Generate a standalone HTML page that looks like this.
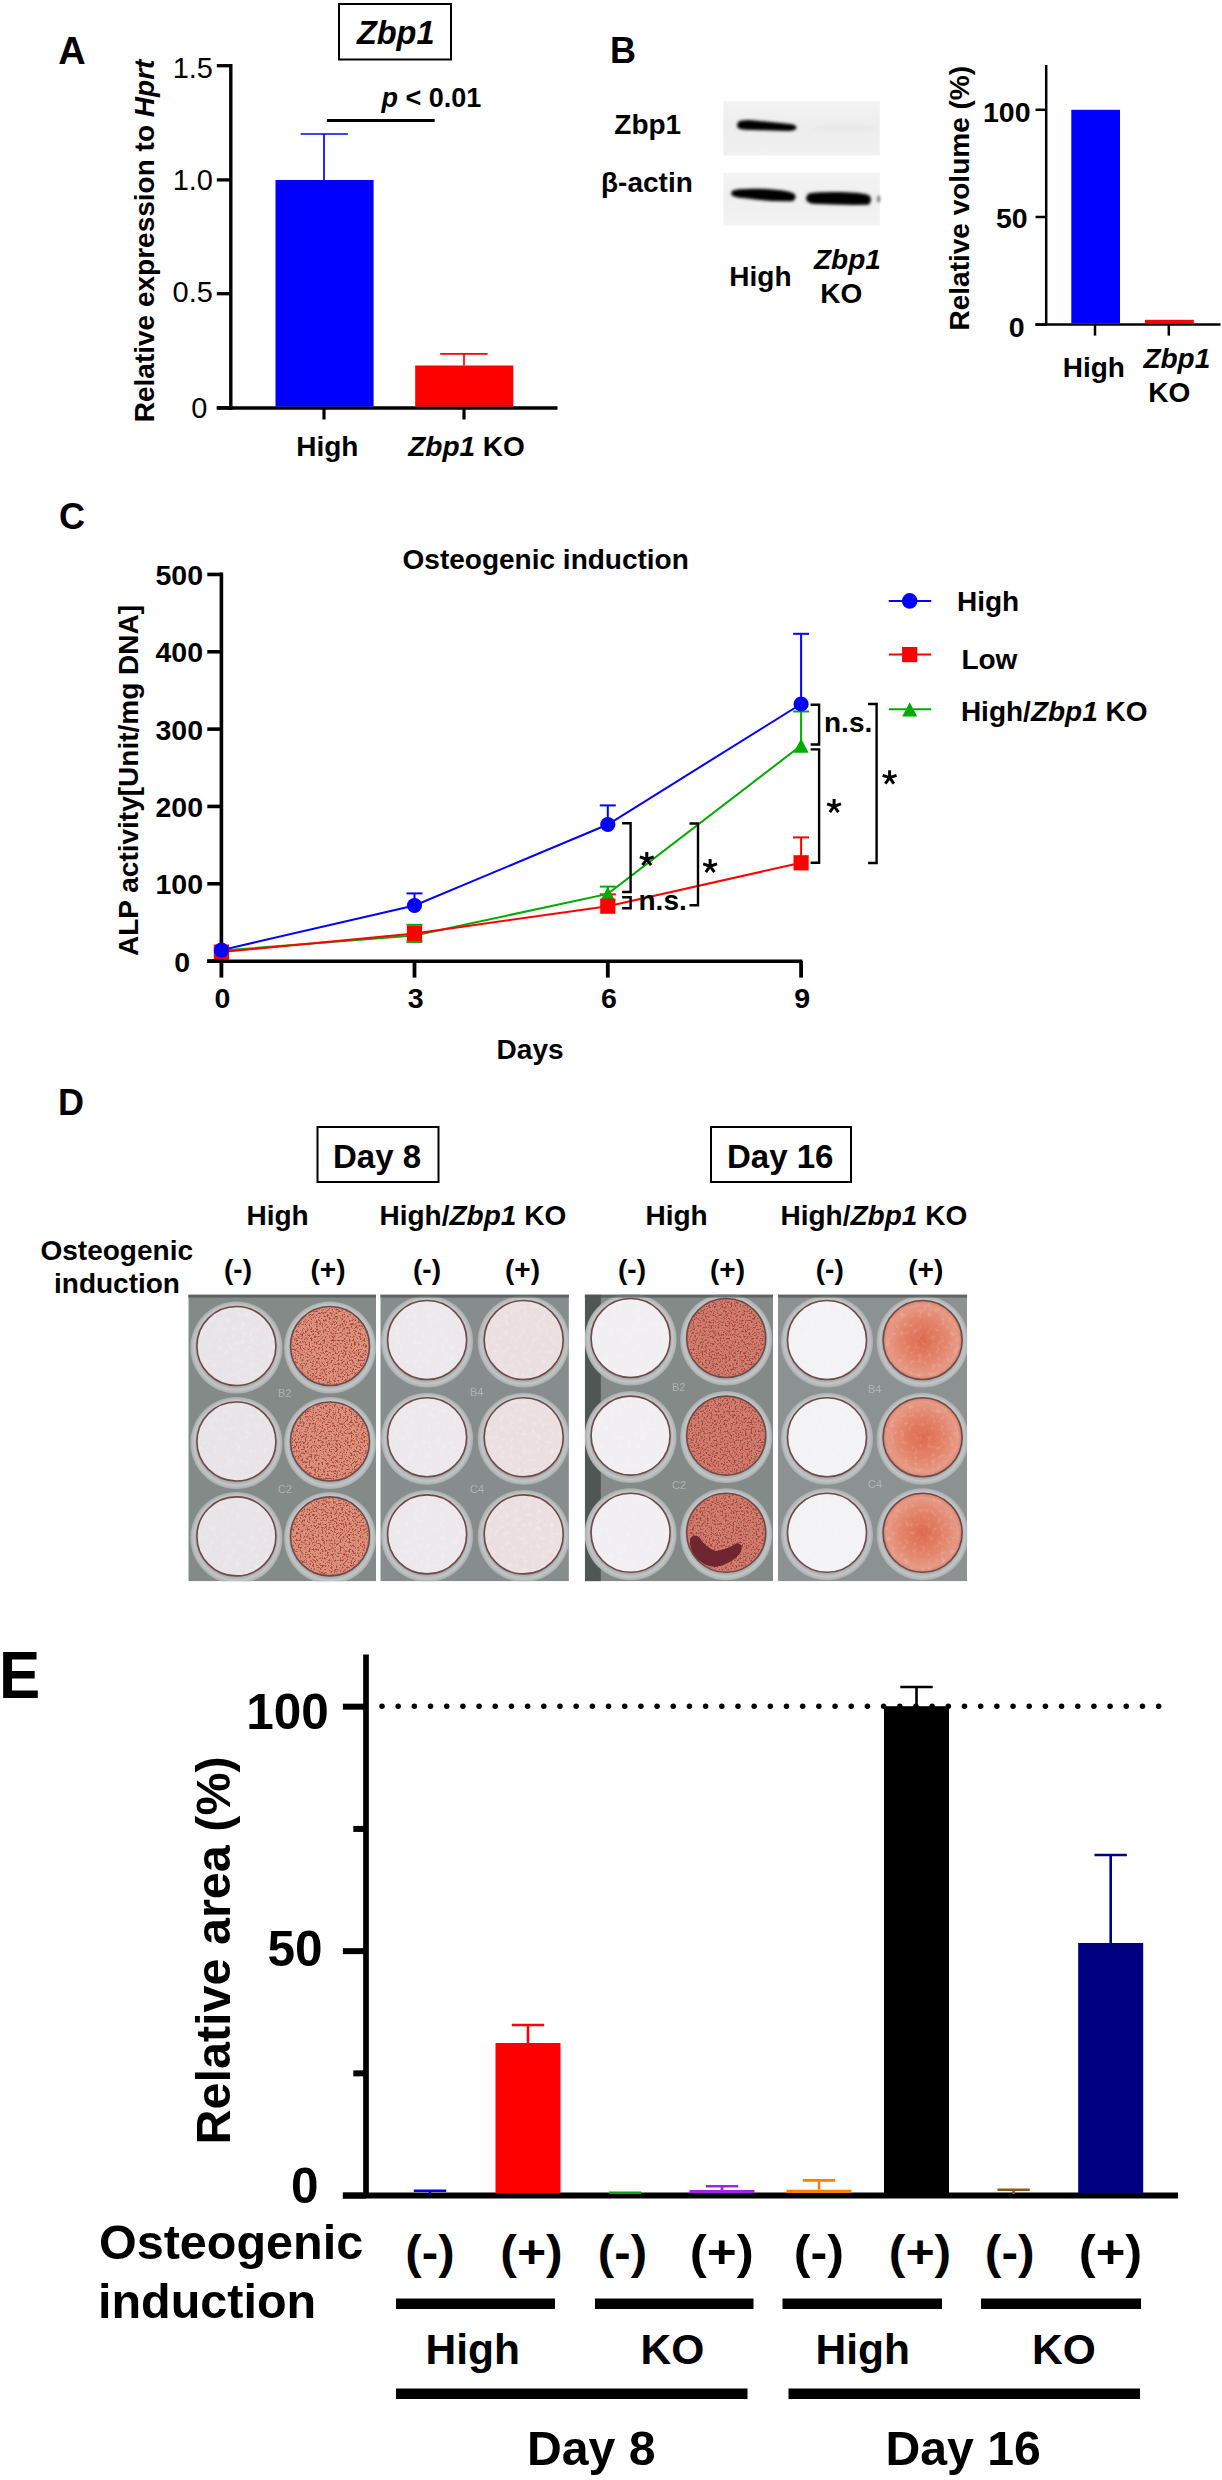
<!DOCTYPE html>
<html><head><meta charset="utf-8"><style>
html,body{margin:0;padding:0;background:#fff;}
body{width:1222px;height:2480px;overflow:hidden;}
svg{display:block;}
text{font-family:"Liberation Sans",sans-serif;}
</style></head><body>
<svg width="1222" height="2480" viewBox="0 0 1222 2480" font-family="Liberation Sans, sans-serif">
<rect width="1222" height="2480" fill="#fff"/>
<defs>
<filter id="blur" x="-20%" y="-100%" width="140%" height="300%"><feGaussianBlur stdDeviation="1.7"/></filter>
<filter id="speck" x="0" y="0" width="100%" height="100%" color-interpolation-filters="sRGB"><feTurbulence type="fractalNoise" baseFrequency="0.55" numOctaves="2" seed="7"/><feColorMatrix type="matrix" values="0 0 0 0 0.66  0 0 0 0 0.24  0 0 0 0 0.21  0 0 -5 0 2.55"/><feGaussianBlur stdDeviation="0.55"/><feComposite in2="SourceGraphic" operator="in"/></filter>
<filter id="speck2" x="0" y="0" width="100%" height="100%" color-interpolation-filters="sRGB"><feTurbulence type="fractalNoise" baseFrequency="0.22" numOctaves="2" seed="3"/><feColorMatrix type="matrix" values="0 0 0 0 1  0 0 0 0 1  0 0 0 0 1  0 0 -1.6 0 0.75"/><feComposite in2="SourceGraphic" operator="in"/></filter>
<radialGradient id="ringg" cx="0.5" cy="0.5" r="0.5"><stop offset="0.84" stop-color="#a3a7a7"/><stop offset="0.92" stop-color="#c3c6c6"/><stop offset="1" stop-color="#a9adad"/></radialGradient>
<radialGradient id="rd16" cx="0.5" cy="0.5" r="0.5"><stop offset="0" stop-color="#de6a4e"/><stop offset="0.55" stop-color="#e3846a"/><stop offset="0.9" stop-color="#e69a86"/><stop offset="1" stop-color="#d5806c"/></radialGradient>
</defs>
<text x="58.20" y="63.80" font-size="38" fill="#000"><tspan font-weight="bold">A</tspan></text>
<rect x="339" y="4" width="112" height="55.5" fill="none" stroke="#000" stroke-width="2"/>
<text x="356.90" y="44.20" font-size="32.5" fill="#000"><tspan font-weight="bold" font-style="italic">Zbp1</tspan></text>
<text x="381.50" y="106.80" font-size="27" fill="#000"><tspan font-weight="bold" font-style="italic">p</tspan><tspan font-weight="bold"> < 0.01</tspan></text>
<line x1="326.9" y1="120.5" x2="434.7" y2="120.5" stroke="#000" stroke-width="3.2" />
<line x1="230.8" y1="64" x2="230.8" y2="410" stroke="#000" stroke-width="3.4" />
<line x1="216.8" y1="65.7" x2="230.8" y2="65.7" stroke="#000" stroke-width="3.3" />
<line x1="216.8" y1="179.9" x2="230.8" y2="179.9" stroke="#000" stroke-width="3.3" />
<line x1="216.8" y1="293.7" x2="230.8" y2="293.7" stroke="#000" stroke-width="3.3" />
<line x1="216.8" y1="407.8" x2="230.8" y2="407.8" stroke="#000" stroke-width="3.3" />
<line x1="216.8" y1="408" x2="557.5" y2="408" stroke="#000" stroke-width="3.3" />
<line x1="324" y1="408" x2="324" y2="419.5" stroke="#000" stroke-width="3.2" />
<line x1="464" y1="408" x2="464" y2="419.5" stroke="#000" stroke-width="3.2" />
<rect x="275.50" y="180.00" width="98.10" height="226.50" fill="#0000ff" />
<line x1="324" y1="134" x2="324" y2="180" stroke="#0000ff" stroke-width="1.7" />
<line x1="300.7" y1="134" x2="347.8" y2="134" stroke="#0000ff" stroke-width="1.7" />
<rect x="415.20" y="365.50" width="98.10" height="41.00" fill="#ff0000" />
<line x1="464" y1="353.8" x2="464" y2="365.5" stroke="#ff0000" stroke-width="1.7" />
<line x1="440.2" y1="353.8" x2="487.6" y2="353.8" stroke="#ff0000" stroke-width="1.7" />
<text x="172.70" y="77.50" font-size="29" fill="#000"><tspan font-weight="normal">1.5</tspan></text>
<text x="172.70" y="190.40" font-size="29" fill="#000"><tspan font-weight="normal">1.0</tspan></text>
<text x="172.60" y="301.70" font-size="29" fill="#000"><tspan font-weight="normal">0.5</tspan></text>
<text x="191.20" y="417.50" font-size="29" fill="#000"><tspan font-weight="normal">0</tspan></text>
<text transform="translate(154.00,422.20) rotate(-90) scale(1.0000,1)" font-size="28"><tspan font-weight="bold">Relative expression to </tspan><tspan font-weight="bold" font-style="italic">Hprt</tspan></text>
<text x="296.20" y="455.90" font-size="28" fill="#000"><tspan font-weight="bold">High</tspan></text>
<text x="408.20" y="455.90" font-size="28" fill="#000"><tspan font-weight="bold" font-style="italic">Zbp1</tspan><tspan font-weight="bold"> KO</tspan></text>
<text x="609.90" y="63.10" font-size="36" fill="#000"><tspan font-weight="bold">B</tspan></text>
<linearGradient id="bl1" x1="0" y1="0" x2="0" y2="1"><stop offset="0" stop-color="#f3f3f3"/><stop offset="0.5" stop-color="#ededed"/><stop offset="1" stop-color="#f1f1f1"/></linearGradient>
<linearGradient id="bl2" x1="0" y1="0" x2="0" y2="1"><stop offset="0" stop-color="#f4f4f4"/><stop offset="0.5" stop-color="#efefef"/><stop offset="1" stop-color="#f3f3f3"/></linearGradient>
<rect x="723.50" y="101.20" width="156.30" height="54.40" fill="url(#bl1)" />
<rect x="723.50" y="172.70" width="156.30" height="52.80" fill="url(#bl2)" />
<ellipse cx="845" cy="128" rx="32" ry="4" fill="#e9e9e9" filter="url(#blur)"/>
<g filter="url(#blur)">
<path d="M738,122 Q742,119.5 752,120.2 L790,124 Q797,125 796.5,128 Q795,131 788,131 L745,129.8 Q737,129.2 737,125.5 Z" fill="#000"/>
<path d="M732,191 Q736,188.3 760,188.8 Q788,189.8 794.5,194 Q797.5,198.5 792,201.3 Q770,201.8 745,198.3 Q732,197.3 731,194 Z" fill="#000"/>
<path d="M808,193.8 Q812,191.8 840,192 Q865,192.3 870,196 Q872.5,201 868.5,204.8 Q840,205.3 812,203.8 Q806,202.3 806,198 Z" fill="#000"/>
<rect x="877.5" y="196" width="2.3" height="6" fill="#555"/>
</g>
<text x="614.30" y="134.40" font-size="28" fill="#000"><tspan font-weight="bold">Zbp1</tspan></text>
<text x="601.00" y="191.50" font-size="28" fill="#000"><tspan font-weight="bold">β-actin</tspan></text>
<text x="729.30" y="285.80" font-size="28" fill="#000"><tspan font-weight="bold">High</tspan></text>
<text x="814.00" y="268.80" font-size="28" fill="#000"><tspan font-weight="bold" font-style="italic">Zbp1</tspan></text>
<text x="820.20" y="302.80" font-size="28" fill="#000"><tspan font-weight="bold">KO</tspan></text>
<line x1="1046.2" y1="65" x2="1046.2" y2="325.5" stroke="#000" stroke-width="2.5" />
<line x1="1035.5" y1="109.8" x2="1046.2" y2="109.8" stroke="#000" stroke-width="2.5" />
<line x1="1035.5" y1="217" x2="1046.2" y2="217" stroke="#000" stroke-width="2.5" />
<line x1="1035.5" y1="324.6" x2="1046.2" y2="324.6" stroke="#000" stroke-width="2.5" />
<line x1="1035.5" y1="324.6" x2="1220.5" y2="324.6" stroke="#000" stroke-width="2.5" />
<line x1="1095" y1="324" x2="1095" y2="335.6" stroke="#000" stroke-width="2.5" />
<line x1="1168.8" y1="324" x2="1168.8" y2="335.6" stroke="#000" stroke-width="2.5" />
<rect x="1071.30" y="109.80" width="48.70" height="213.60" fill="#0000ff" />
<rect x="1145.00" y="319.80" width="48.80" height="3.60" fill="#ff0000" />
<text x="983.00" y="121.60" font-size="28.5" fill="#000"><tspan font-weight="bold">100</tspan></text>
<text x="996.00" y="227.70" font-size="28.5" fill="#000"><tspan font-weight="bold">50</tspan></text>
<text x="1008.80" y="336.50" font-size="28.5" fill="#000"><tspan font-weight="bold">0</tspan></text>
<text transform="translate(969.00,330.50) rotate(-90) scale(1.0000,1)" font-size="28"><tspan font-weight="bold">Relative volume (%)</tspan></text>
<text x="1062.70" y="376.80" font-size="28" fill="#000"><tspan font-weight="bold">High</tspan></text>
<text x="1143.40" y="368.00" font-size="28" fill="#000"><tspan font-weight="bold" font-style="italic">Zbp1</tspan></text>
<text x="1148.30" y="401.50" font-size="28" fill="#000"><tspan font-weight="bold">KO</tspan></text>
<text x="59.00" y="529.40" font-size="36" fill="#000"><tspan font-weight="bold">C</tspan></text>
<text x="402.60" y="569.00" font-size="28" fill="#000"><tspan font-weight="bold">Osteogenic induction</tspan></text>
<line x1="221.4" y1="572.5" x2="221.4" y2="962.5" stroke="#000" stroke-width="3.6" />
<line x1="207.3" y1="961.1" x2="221.4" y2="961.1" stroke="#000" stroke-width="3.6" />
<text x="174.20" y="972.00" font-size="28.5" fill="#000"><tspan font-weight="bold">0</tspan></text>
<line x1="207.3" y1="883.77" x2="221.4" y2="883.77" stroke="#000" stroke-width="3.6" />
<text x="155.50" y="894.37" font-size="28.5" fill="#000"><tspan font-weight="bold">100</tspan></text>
<line x1="207.3" y1="806.44" x2="221.4" y2="806.44" stroke="#000" stroke-width="3.6" />
<text x="155.50" y="817.04" font-size="28.5" fill="#000"><tspan font-weight="bold">200</tspan></text>
<line x1="207.3" y1="729.11" x2="221.4" y2="729.11" stroke="#000" stroke-width="3.6" />
<text x="155.50" y="739.71" font-size="28.5" fill="#000"><tspan font-weight="bold">300</tspan></text>
<line x1="207.3" y1="651.78" x2="221.4" y2="651.78" stroke="#000" stroke-width="3.6" />
<text x="155.50" y="662.38" font-size="28.5" fill="#000"><tspan font-weight="bold">400</tspan></text>
<line x1="207.3" y1="574.45" x2="221.4" y2="574.45" stroke="#000" stroke-width="3.6" />
<text x="155.50" y="585.05" font-size="28.5" fill="#000"><tspan font-weight="bold">500</tspan></text>
<line x1="221.4" y1="961" x2="221.4" y2="977.6" stroke="#000" stroke-width="3.8" />
<text x="214.60" y="1008.30" font-size="28.5" fill="#000"><tspan font-weight="bold">0</tspan></text>
<line x1="414.5" y1="961" x2="414.5" y2="977.6" stroke="#000" stroke-width="3.8" />
<text x="407.70" y="1008.30" font-size="28.5" fill="#000"><tspan font-weight="bold">3</tspan></text>
<line x1="607.8" y1="961" x2="607.8" y2="977.6" stroke="#000" stroke-width="3.8" />
<text x="601.00" y="1008.30" font-size="28.5" fill="#000"><tspan font-weight="bold">6</tspan></text>
<line x1="801.1" y1="961" x2="801.1" y2="977.6" stroke="#000" stroke-width="3.8" />
<text x="794.30" y="1008.30" font-size="28.5" fill="#000"><tspan font-weight="bold">9</tspan></text>
<text x="496.60" y="1059.00" font-size="28" fill="#000"><tspan font-weight="bold">Days</tspan></text>
<text transform="translate(138.00,956.00) rotate(-90) scale(1.0000,1)" font-size="28"><tspan font-weight="bold">ALP activity[Unit/mg DNA]</tspan></text>
<line x1="414.5" y1="905.5" x2="414.5" y2="893.4" stroke="#0000ff" stroke-width="2" />
<line x1="406.5" y1="893.4" x2="422.5" y2="893.4" stroke="#0000ff" stroke-width="2" />
<line x1="607.8" y1="824.5" x2="607.8" y2="805.4" stroke="#0000ff" stroke-width="2" />
<line x1="599.8" y1="805.4" x2="615.8" y2="805.4" stroke="#0000ff" stroke-width="2" />
<line x1="801.1" y1="704" x2="801.1" y2="633.8" stroke="#0000ff" stroke-width="2" />
<line x1="793.1" y1="633.8" x2="809.1" y2="633.8" stroke="#0000ff" stroke-width="2" />
<line x1="607.8" y1="906.2" x2="607.8" y2="894.4" stroke="#ff0000" stroke-width="2" />
<line x1="599.8" y1="894.4" x2="615.8" y2="894.4" stroke="#ff0000" stroke-width="2" />
<line x1="801.1" y1="862.5" x2="801.1" y2="837.4" stroke="#ff0000" stroke-width="2" />
<line x1="793.1" y1="837.4" x2="809.1" y2="837.4" stroke="#ff0000" stroke-width="2" />
<line x1="414.5" y1="933" x2="414.5" y2="924.8" stroke="#00aa00" stroke-width="2" />
<line x1="406.5" y1="924.8" x2="422.5" y2="924.8" stroke="#00aa00" stroke-width="2" />
<line x1="414.5" y1="933" x2="414.5" y2="941.8" stroke="#00aa00" stroke-width="2" />
<line x1="406.5" y1="941.8" x2="422.5" y2="941.8" stroke="#00aa00" stroke-width="2" />
<line x1="607.8" y1="893.9" x2="607.8" y2="886.6" stroke="#00aa00" stroke-width="2" />
<line x1="599.8" y1="886.6" x2="615.8" y2="886.6" stroke="#00aa00" stroke-width="2" />
<line x1="801.1" y1="745.5" x2="801.1" y2="711.5" stroke="#00aa00" stroke-width="2" />
<line x1="793.1" y1="711.5" x2="809.1" y2="711.5" stroke="#00aa00" stroke-width="2" />
<polyline points="221.4,950.6 414.5,935.5 607.8,893.9 801.1,745.5" fill="none" stroke="#00aa00" stroke-width="2"/>
<polyline points="221.4,952.1 414.5,933.4 607.8,906.2 801.1,862.8" fill="none" stroke="#ff0000" stroke-width="2"/>
<polyline points="221.4,950.1 414.5,905.5 607.8,824.5 801.1,704" fill="none" stroke="#0000ff" stroke-width="2"/>
<polygon points="213.9,957.725 228.9,957.725 221.4,943.475" fill="#00aa00"/>
<polygon points="407.0,942.625 422.0,942.625 414.5,928.375" fill="#00aa00"/>
<polygon points="600.3,901.025 615.3,901.025 607.8,886.775" fill="#00aa00"/>
<polygon points="793.6,752.625 808.6,752.625 801.1,738.375" fill="#00aa00"/>
<rect x="213.80" y="944.50" width="15.20" height="15.20" fill="#ff0000" />
<rect x="406.90" y="925.80" width="15.20" height="15.20" fill="#ff0000" />
<rect x="600.20" y="898.60" width="15.20" height="15.20" fill="#ff0000" />
<rect x="793.50" y="855.20" width="15.20" height="15.20" fill="#ff0000" />
<circle cx="221.4" cy="950.1" r="7.6" fill="#0000ff"/>
<circle cx="414.5" cy="905.5" r="7.6" fill="#0000ff"/>
<circle cx="607.8" cy="824.5" r="7.6" fill="#0000ff"/>
<circle cx="801.1" cy="704" r="7.6" fill="#0000ff"/>
<polyline points="622.1,823.2 630.6,823.2 630.6,892 622.1,892" fill="none" stroke="#000" stroke-width="2.4"/>
<polyline points="622.1,897.3 630.6,897.3 630.6,908.3 622.1,908.3" fill="none" stroke="#000" stroke-width="2.4"/>
<polyline points="689.5,823.5 698,823.5 698,905.2 689.5,905.2" fill="none" stroke="#000" stroke-width="2.4"/>
<polyline points="810.6,704.7 819.1,704.7 819.1,744.5 810.6,744.5" fill="none" stroke="#000" stroke-width="2.4"/>
<polyline points="810.6,749.4 819.1,749.4 819.1,862.8 810.6,862.8" fill="none" stroke="#000" stroke-width="2.4"/>
<polyline points="868.1,704 876.6,704 876.6,863 868.1,863" fill="none" stroke="#000" stroke-width="2.4"/>
<path d="M646.80,859.20L646.80,851.90M646.80,859.20L653.74,856.94M646.80,859.20L639.86,856.94M646.80,859.20L651.09,865.11M646.80,859.20L642.51,865.11" stroke="#000" stroke-width="3.0" fill="none"/>
<path d="M710.10,866.20L710.10,858.90M710.10,866.20L717.04,863.94M710.10,866.20L703.16,863.94M710.10,866.20L714.39,872.11M710.10,866.20L705.81,872.11" stroke="#000" stroke-width="3.0" fill="none"/>
<path d="M834.10,806.20L834.10,798.90M834.10,806.20L841.04,803.94M834.10,806.20L827.16,803.94M834.10,806.20L838.39,812.11M834.10,806.20L829.81,812.11" stroke="#000" stroke-width="3.0" fill="none"/>
<path d="M889.60,777.60L889.60,770.30M889.60,777.60L896.54,775.34M889.60,777.60L882.66,775.34M889.60,777.60L893.89,783.51M889.60,777.60L885.31,783.51" stroke="#000" stroke-width="3.0" fill="none"/>
<line x1="207.2" y1="961.2" x2="802.4" y2="961.2" stroke="#000" stroke-width="3.4" />
<text x="638.50" y="910.10" font-size="28" fill="#000"><tspan font-weight="bold">n.s.</tspan></text>
<text x="824.00" y="731.70" font-size="28" fill="#000"><tspan font-weight="bold">n.s.</tspan></text>
<line x1="888.8" y1="600.9" x2="931.2" y2="600.9" stroke="#0000ff" stroke-width="2" />
<line x1="888.8" y1="654.6" x2="931.2" y2="654.6" stroke="#ff0000" stroke-width="2" />
<line x1="888.8" y1="709.3" x2="931.2" y2="709.3" stroke="#00aa00" stroke-width="2" />
<circle cx="909.7" cy="600.9" r="7.8" fill="#0000ff"/>
<rect x="902.10" y="647.00" width="15.20" height="15.20" fill="#ff0000" />
<polygon points="902.2,716.425 917.2,716.425 909.7,702.175" fill="#00aa00"/>
<text x="957.00" y="611.40" font-size="28" fill="#000"><tspan font-weight="bold">High</tspan></text>
<text x="961.40" y="668.70" font-size="28" fill="#000"><tspan font-weight="bold">Low</tspan></text>
<text x="960.90" y="720.60" font-size="28" fill="#000"><tspan font-weight="bold">High/</tspan><tspan font-weight="bold" font-style="italic">Zbp1</tspan><tspan font-weight="bold"> KO</tspan></text>
<text x="58.00" y="1115.00" font-size="36" fill="#000"><tspan font-weight="bold">D</tspan></text>
<rect x="317.5" y="1127" width="121" height="55" fill="none" stroke="#000" stroke-width="2"/>
<rect x="711" y="1127" width="140" height="55" fill="none" stroke="#000" stroke-width="2"/>
<text x="333.00" y="1167.50" font-size="33" fill="#000"><tspan font-weight="bold">Day 8</tspan></text>
<text x="727.00" y="1167.50" font-size="33" fill="#000"><tspan font-weight="bold">Day 16</tspan></text>
<text x="246.50" y="1225.00" font-size="28" fill="#000"><tspan font-weight="bold">High</tspan></text>
<text x="379.50" y="1225.00" font-size="28" fill="#000"><tspan font-weight="bold">High/</tspan><tspan font-weight="bold" font-style="italic">Zbp1</tspan><tspan font-weight="bold"> KO</tspan></text>
<text x="645.50" y="1225.00" font-size="28" fill="#000"><tspan font-weight="bold">High</tspan></text>
<text x="780.50" y="1225.00" font-size="28" fill="#000"><tspan font-weight="bold">High/</tspan><tspan font-weight="bold" font-style="italic">Zbp1</tspan><tspan font-weight="bold"> KO</tspan></text>
<text x="40.50" y="1260.00" font-size="28" fill="#000"><tspan font-weight="bold">Osteogenic</tspan></text>
<text x="54.00" y="1292.50" font-size="28" fill="#000"><tspan font-weight="bold">induction</tspan></text>
<text x="224.00" y="1279.00" font-size="28" fill="#000"><tspan font-weight="bold">(-)</tspan></text>
<text x="310.50" y="1279.00" font-size="28" fill="#000"><tspan font-weight="bold">(+)</tspan></text>
<text x="413.00" y="1279.00" font-size="28" fill="#000"><tspan font-weight="bold">(-)</tspan></text>
<text x="505.00" y="1279.00" font-size="28" fill="#000"><tspan font-weight="bold">(+)</tspan></text>
<text x="618.00" y="1279.00" font-size="28" fill="#000"><tspan font-weight="bold">(-)</tspan></text>
<text x="710.00" y="1279.00" font-size="28" fill="#000"><tspan font-weight="bold">(+)</tspan></text>
<text x="815.75" y="1279.00" font-size="28" fill="#000"><tspan font-weight="bold">(-)</tspan></text>
<text x="908.25" y="1279.00" font-size="28" fill="#000"><tspan font-weight="bold">(+)</tspan></text>
<clipPath id="pc1"><rect x="188.3" y="1294.6" width="187.7" height="286.70000000000005"/></clipPath><g clip-path="url(#pc1)">
<rect x="188.3" y="1294.6" width="187.7" height="286.70000000000005" fill="#838a88"/>

<circle cx="236.4" cy="1347.5" r="46" fill="url(#ringg)"/>
<circle cx="236.4" cy="1346" r="39.5" fill="#e8e4e7" stroke="#6e4a48" stroke-width="1.6"/>
<circle cx="236.4" cy="1346" r="38.5" fill="#fff" filter="url(#speck2)" opacity="0.5"/>
<circle cx="236.4" cy="1443.0" r="46" fill="url(#ringg)"/>
<circle cx="236.4" cy="1441.5" r="39.5" fill="#e8e4e7" stroke="#6e4a48" stroke-width="1.6"/>
<circle cx="236.4" cy="1441.5" r="38.5" fill="#fff" filter="url(#speck2)" opacity="0.5"/>
<circle cx="236.4" cy="1537.9" r="46" fill="url(#ringg)"/>
<circle cx="236.4" cy="1536.4" r="39.5" fill="#e8e4e7" stroke="#6e4a48" stroke-width="1.6"/>
<circle cx="236.4" cy="1536.4" r="38.5" fill="#fff" filter="url(#speck2)" opacity="0.5"/>
<circle cx="330" cy="1347.5" r="46" fill="url(#ringg)"/>
<circle cx="330" cy="1346" r="39.5" fill="#dc937e" stroke="#6e4a48" stroke-width="1.6"/>
<circle cx="330" cy="1346" r="38.5" fill="#fff" filter="url(#speck)" opacity="0.9"/>
<circle cx="330" cy="1443.0" r="46" fill="url(#ringg)"/>
<circle cx="330" cy="1441.5" r="39.5" fill="#dc937e" stroke="#6e4a48" stroke-width="1.6"/>
<circle cx="330" cy="1441.5" r="38.5" fill="#fff" filter="url(#speck)" opacity="0.9"/>
<circle cx="330" cy="1537.9" r="46" fill="url(#ringg)"/>
<circle cx="330" cy="1536.4" r="39.5" fill="#dc937e" stroke="#6e4a48" stroke-width="1.6"/>
<circle cx="330" cy="1536.4" r="38.5" fill="#fff" filter="url(#speck)" opacity="0.9"/>

</g>
<clipPath id="pc2"><rect x="380.3" y="1294.6" width="188.59999999999997" height="286.70000000000005"/></clipPath><g clip-path="url(#pc2)">
<rect x="380.3" y="1294.6" width="188.59999999999997" height="286.70000000000005" fill="#878d8c"/>

<circle cx="427.1" cy="1341.5" r="46" fill="url(#ringg)"/>
<circle cx="427.1" cy="1340" r="39.5" fill="#ece8eb" stroke="#6e4a48" stroke-width="1.6"/>
<circle cx="427.1" cy="1340" r="38.5" fill="#fff" filter="url(#speck2)" opacity="0.5"/>
<circle cx="427.1" cy="1438.7" r="46" fill="url(#ringg)"/>
<circle cx="427.1" cy="1437.2" r="39.5" fill="#ece8eb" stroke="#6e4a48" stroke-width="1.6"/>
<circle cx="427.1" cy="1437.2" r="38.5" fill="#fff" filter="url(#speck2)" opacity="0.5"/>
<circle cx="427.1" cy="1535.9" r="46" fill="url(#ringg)"/>
<circle cx="427.1" cy="1534.4" r="39.5" fill="#ece8eb" stroke="#6e4a48" stroke-width="1.6"/>
<circle cx="427.1" cy="1534.4" r="38.5" fill="#fff" filter="url(#speck2)" opacity="0.5"/>
<circle cx="523.7" cy="1341.5" r="46" fill="url(#ringg)"/>
<circle cx="523.7" cy="1340" r="39.5" fill="#ecdfe2" stroke="#6e4a48" stroke-width="1.6"/>
<circle cx="523.7" cy="1340" r="38.5" fill="#fff" filter="url(#speck2)" opacity="0.5"/>
<circle cx="523.7" cy="1438.7" r="46" fill="url(#ringg)"/>
<circle cx="523.7" cy="1437.2" r="39.5" fill="#ecdfe2" stroke="#6e4a48" stroke-width="1.6"/>
<circle cx="523.7" cy="1437.2" r="38.5" fill="#fff" filter="url(#speck2)" opacity="0.5"/>
<circle cx="523.7" cy="1535.9" r="46" fill="url(#ringg)"/>
<circle cx="523.7" cy="1534.4" r="39.5" fill="#ecdfe2" stroke="#6e4a48" stroke-width="1.6"/>
<circle cx="523.7" cy="1534.4" r="38.5" fill="#fff" filter="url(#speck2)" opacity="0.5"/>

</g>
<clipPath id="pc3"><rect x="584.8" y="1294.6" width="188.20000000000005" height="286.70000000000005"/></clipPath><g clip-path="url(#pc3)">
<rect x="584.8" y="1294.6" width="188.20000000000005" height="286.70000000000005" fill="#838a88"/>
<rect x="584.8" y="1294.6" width="16" height="287" fill="#2f3432" opacity="0.6"/>
<circle cx="630.6" cy="1339.5" r="46" fill="url(#ringg)"/>
<circle cx="630.6" cy="1338" r="39.5" fill="#f1eff1" stroke="#6e4a48" stroke-width="1.6"/>
<circle cx="630.6" cy="1338" r="38.5" fill="#fff" filter="url(#speck2)" opacity="0.5"/>
<circle cx="630.6" cy="1437.1" r="46" fill="url(#ringg)"/>
<circle cx="630.6" cy="1435.6" r="39.5" fill="#f1eff1" stroke="#6e4a48" stroke-width="1.6"/>
<circle cx="630.6" cy="1435.6" r="38.5" fill="#fff" filter="url(#speck2)" opacity="0.5"/>
<circle cx="630.6" cy="1534.3" r="46" fill="url(#ringg)"/>
<circle cx="630.6" cy="1532.8" r="39.5" fill="#f1eff1" stroke="#6e4a48" stroke-width="1.6"/>
<circle cx="630.6" cy="1532.8" r="38.5" fill="#fff" filter="url(#speck2)" opacity="0.5"/>
<circle cx="726.2" cy="1339.5" r="46" fill="url(#ringg)"/>
<circle cx="726.2" cy="1338" r="39.5" fill="#cf7f70" stroke="#6e4a48" stroke-width="1.6"/>
<circle cx="726.2" cy="1338" r="38.5" fill="#fff" filter="url(#speck)" opacity="0.9"/>
<circle cx="726.2" cy="1437.1" r="46" fill="url(#ringg)"/>
<circle cx="726.2" cy="1435.6" r="39.5" fill="#cf7f70" stroke="#6e4a48" stroke-width="1.6"/>
<circle cx="726.2" cy="1435.6" r="38.5" fill="#fff" filter="url(#speck)" opacity="0.9"/>
<circle cx="726.2" cy="1534.3" r="46" fill="url(#ringg)"/>
<circle cx="726.2" cy="1532.8" r="39.5" fill="#cf7f70" stroke="#6e4a48" stroke-width="1.6"/>
<circle cx="726.2" cy="1532.8" r="38.5" fill="#fff" filter="url(#speck)" opacity="0.9"/>
<path d="M690,1539 Q693,1533 699,1537 Q706,1548 716,1551 Q728,1549 737,1543 Q744,1544 741,1552 Q734,1563 716,1567 Q702,1566 695,1556 Q689,1548 690,1539 Z" fill="#6f2630"/>
</g>
<clipPath id="pc4"><rect x="778" y="1294.6" width="189.10000000000002" height="286.70000000000005"/></clipPath><g clip-path="url(#pc4)">
<rect x="778" y="1294.6" width="189.10000000000002" height="286.70000000000005" fill="#8c9191"/>

<circle cx="827" cy="1341.5" r="46" fill="url(#ringg)"/>
<circle cx="827" cy="1340" r="39.5" fill="#f3f2f4" stroke="#6e4a48" stroke-width="1.6"/>
<circle cx="827" cy="1340" r="38.5" fill="#fff" filter="url(#speck2)" opacity="0.5"/>
<circle cx="827" cy="1438.7" r="46" fill="url(#ringg)"/>
<circle cx="827" cy="1437.2" r="39.5" fill="#f3f2f4" stroke="#6e4a48" stroke-width="1.6"/>
<circle cx="827" cy="1437.2" r="38.5" fill="#fff" filter="url(#speck2)" opacity="0.5"/>
<circle cx="827" cy="1534.3" r="46" fill="url(#ringg)"/>
<circle cx="827" cy="1532.8" r="39.5" fill="#f3f2f4" stroke="#6e4a48" stroke-width="1.6"/>
<circle cx="827" cy="1532.8" r="38.5" fill="#fff" filter="url(#speck2)" opacity="0.5"/>
<circle cx="922.6" cy="1341.5" r="46" fill="url(#ringg)"/>
<circle cx="922.6" cy="1340" r="39.5" fill="url(#rd16)" stroke="#6e4a48" stroke-width="1.6"/>
<circle cx="922.6" cy="1340" r="38.5" fill="#fff" filter="url(#speck2)" opacity="0.35"/>
<circle cx="922.6" cy="1438.7" r="46" fill="url(#ringg)"/>
<circle cx="922.6" cy="1437.2" r="39.5" fill="url(#rd16)" stroke="#6e4a48" stroke-width="1.6"/>
<circle cx="922.6" cy="1437.2" r="38.5" fill="#fff" filter="url(#speck2)" opacity="0.35"/>
<circle cx="922.6" cy="1534.3" r="46" fill="url(#ringg)"/>
<circle cx="922.6" cy="1532.8" r="39.5" fill="url(#rd16)" stroke="#6e4a48" stroke-width="1.6"/>
<circle cx="922.6" cy="1532.8" r="38.5" fill="#fff" filter="url(#speck2)" opacity="0.35"/>

</g><rect x="188.3" y="1294.6" width="187.7" height="3" fill="#4d5352" opacity="0.7"/><rect x="380.3" y="1294.6" width="188.59999999999997" height="3" fill="#4d5352" opacity="0.7"/><rect x="584.8" y="1294.6" width="188.20000000000005" height="3" fill="#4d5352" opacity="0.7"/><rect x="778" y="1294.6" width="189.10000000000002" height="3" fill="#4d5352" opacity="0.7"/><g font-size="11" fill="#b9bdbd" opacity="0.8"><text x="278" y="1397">B2</text><text x="278" y="1493">C2</text><text x="470" y="1396">B4</text><text x="470" y="1493">C4</text><text x="672" y="1391">B2</text><text x="672" y="1489">C2</text><text x="868" y="1393">B4</text><text x="868" y="1488">C4</text></g>
<text transform="translate(-1.02,1697.90) scale(0.9289,1.0000)" font-size="66.5" fill="#000"><tspan font-weight="bold">E</tspan></text>
<line x1="366" y1="1654.5" x2="366" y2="2198" stroke="#000" stroke-width="5.7" />
<line x1="342.9" y1="2195.6" x2="366" y2="2195.6" stroke="#000" stroke-width="6" />
<line x1="342.9" y1="1951.1399999999999" x2="366" y2="1951.1399999999999" stroke="#000" stroke-width="6" />
<line x1="342.9" y1="1706.6799999999998" x2="366" y2="1706.6799999999998" stroke="#000" stroke-width="6" />
<line x1="353.3" y1="2073.37" x2="366" y2="2073.37" stroke="#000" stroke-width="6" />
<line x1="353.3" y1="1828.9099999999999" x2="366" y2="1828.9099999999999" stroke="#000" stroke-width="6" />
<line x1="342.9" y1="2195.6" x2="1178" y2="2195.6" stroke="#000" stroke-width="6" />
<text x="246.30" y="1728.70" font-size="49.5" fill="#000"><tspan font-weight="bold">100</tspan></text>
<text x="267.60" y="1966.00" font-size="49.5" fill="#000"><tspan font-weight="bold">50</tspan></text>
<text x="291.00" y="2203.20" font-size="49.5" fill="#000"><tspan font-weight="bold">0</tspan></text>
<text transform="translate(229.50,2144.50) rotate(-90) scale(1.0000,1)" font-size="48.5"><tspan font-weight="bold">Relative area (%)</tspan></text>
<g fill="#000"><circle cx="382.00" cy="1706.2" r="2.75"/><circle cx="398.18" cy="1706.2" r="2.75"/><circle cx="414.36" cy="1706.2" r="2.75"/><circle cx="430.54" cy="1706.2" r="2.75"/><circle cx="446.72" cy="1706.2" r="2.75"/><circle cx="462.90" cy="1706.2" r="2.75"/><circle cx="479.08" cy="1706.2" r="2.75"/><circle cx="495.26" cy="1706.2" r="2.75"/><circle cx="511.44" cy="1706.2" r="2.75"/><circle cx="527.62" cy="1706.2" r="2.75"/><circle cx="543.80" cy="1706.2" r="2.75"/><circle cx="559.98" cy="1706.2" r="2.75"/><circle cx="576.16" cy="1706.2" r="2.75"/><circle cx="592.34" cy="1706.2" r="2.75"/><circle cx="608.52" cy="1706.2" r="2.75"/><circle cx="624.70" cy="1706.2" r="2.75"/><circle cx="640.88" cy="1706.2" r="2.75"/><circle cx="657.06" cy="1706.2" r="2.75"/><circle cx="673.24" cy="1706.2" r="2.75"/><circle cx="689.42" cy="1706.2" r="2.75"/><circle cx="705.60" cy="1706.2" r="2.75"/><circle cx="721.78" cy="1706.2" r="2.75"/><circle cx="737.96" cy="1706.2" r="2.75"/><circle cx="754.14" cy="1706.2" r="2.75"/><circle cx="770.32" cy="1706.2" r="2.75"/><circle cx="786.50" cy="1706.2" r="2.75"/><circle cx="802.68" cy="1706.2" r="2.75"/><circle cx="818.86" cy="1706.2" r="2.75"/><circle cx="835.04" cy="1706.2" r="2.75"/><circle cx="851.22" cy="1706.2" r="2.75"/><circle cx="867.40" cy="1706.2" r="2.75"/><circle cx="883.58" cy="1706.2" r="2.75"/><circle cx="899.76" cy="1706.2" r="2.75"/><circle cx="915.94" cy="1706.2" r="2.75"/><circle cx="932.12" cy="1706.2" r="2.75"/><circle cx="948.30" cy="1706.2" r="2.75"/><circle cx="964.48" cy="1706.2" r="2.75"/><circle cx="980.66" cy="1706.2" r="2.75"/><circle cx="996.84" cy="1706.2" r="2.75"/><circle cx="1013.02" cy="1706.2" r="2.75"/><circle cx="1029.20" cy="1706.2" r="2.75"/><circle cx="1045.38" cy="1706.2" r="2.75"/><circle cx="1061.56" cy="1706.2" r="2.75"/><circle cx="1077.74" cy="1706.2" r="2.75"/><circle cx="1093.92" cy="1706.2" r="2.75"/><circle cx="1110.10" cy="1706.2" r="2.75"/><circle cx="1126.28" cy="1706.2" r="2.75"/><circle cx="1142.46" cy="1706.2" r="2.75"/><circle cx="1158.64" cy="1706.2" r="2.75"/></g>
<rect x="397.50" y="2194.00" width="65.00" height="-1.00" fill="#0000ff" />
<line x1="430" y1="2194" x2="430" y2="2190.7" stroke="#0000ff" stroke-width="2.6" />
<line x1="413.8" y1="2190.7" x2="446.2" y2="2190.7" stroke="#0000ff" stroke-width="2.6" />
<rect x="495.50" y="2043.00" width="65.00" height="150.00" fill="#ff0000" />
<line x1="528" y1="2043" x2="528" y2="2025" stroke="#ff0000" stroke-width="2.6" />
<line x1="511.8" y1="2025" x2="544.2" y2="2025" stroke="#ff0000" stroke-width="2.6" />
<rect x="592.50" y="2194.00" width="65.00" height="-1.00" fill="#00aa00" />
<line x1="625" y1="2194" x2="625" y2="2192.7" stroke="#00aa00" stroke-width="2.6" />
<line x1="608.8" y1="2192.7" x2="641.2" y2="2192.7" stroke="#00aa00" stroke-width="2.6" />
<rect x="689.50" y="2190.00" width="65.00" height="3.00" fill="#a020f0" />
<line x1="722" y1="2190" x2="722" y2="2186.3" stroke="#a020f0" stroke-width="2.6" />
<line x1="705.8" y1="2186.3" x2="738.2" y2="2186.3" stroke="#a020f0" stroke-width="2.6" />
<rect x="786.50" y="2189.70" width="65.00" height="3.30" fill="#ff8000" />
<line x1="819" y1="2189.7" x2="819" y2="2180.4" stroke="#ff8000" stroke-width="2.6" />
<line x1="802.8" y1="2180.4" x2="835.2" y2="2180.4" stroke="#ff8000" stroke-width="2.6" />
<rect x="884.00" y="1706.20" width="65.00" height="486.80" fill="#000000" />
<line x1="916.5" y1="1706.2" x2="916.5" y2="1687" stroke="#000000" stroke-width="2.6" />
<line x1="900.3" y1="1687" x2="932.7" y2="1687" stroke="#000000" stroke-width="2.6" />
<rect x="981.10" y="2194.00" width="65.00" height="-1.00" fill="#8b5a1b" />
<line x1="1013.6" y1="2194" x2="1013.6" y2="2189.7" stroke="#8b5a1b" stroke-width="2.6" />
<line x1="997.4" y1="2189.7" x2="1029.8" y2="2189.7" stroke="#8b5a1b" stroke-width="2.6" />
<rect x="1078.20" y="1943.00" width="65.00" height="250.00" fill="#000080" />
<line x1="1110.7" y1="1943" x2="1110.7" y2="1855" stroke="#000080" stroke-width="2.6" />
<line x1="1094.5" y1="1855" x2="1126.9" y2="1855" stroke="#000080" stroke-width="2.6" />
<text x="99.00" y="2258.50" font-size="48.5" fill="#000"><tspan font-weight="bold">Osteogenic</tspan></text>
<text x="98.00" y="2317.50" font-size="48.5" fill="#000"><tspan font-weight="bold">induction</tspan></text>
<text transform="translate(405.36,2268.00) scale(1.0714,1.0000)" font-size="46" fill="#000"><tspan font-weight="bold">(-)</tspan></text>
<text transform="translate(500.33,2268.00) scale(1.0849,1.0000)" font-size="46" fill="#000"><tspan font-weight="bold">(+)</tspan></text>
<text transform="translate(597.86,2268.00) scale(1.0714,1.0000)" font-size="46" fill="#000"><tspan font-weight="bold">(-)</tspan></text>
<text transform="translate(689.77,2268.00) scale(1.1132,1.0000)" font-size="46" fill="#000"><tspan font-weight="bold">(+)</tspan></text>
<text transform="translate(793.81,2268.00) scale(1.0952,1.0000)" font-size="46" fill="#000"><tspan font-weight="bold">(-)</tspan></text>
<text transform="translate(888.83,2268.00) scale(1.0849,1.0000)" font-size="46" fill="#000"><tspan font-weight="bold">(+)</tspan></text>
<text transform="translate(984.83,2268.00) scale(1.0833,1.0000)" font-size="46" fill="#000"><tspan font-weight="bold">(-)</tspan></text>
<text transform="translate(1078.79,2268.00) scale(1.1038,1.0000)" font-size="46" fill="#000"><tspan font-weight="bold">(+)</tspan></text>
<rect x="396.00" y="2298.50" width="159.00" height="10.50" fill="#000" />
<rect x="595.00" y="2298.50" width="158.50" height="10.50" fill="#000" />
<rect x="782.50" y="2298.50" width="159.50" height="10.50" fill="#000" />
<rect x="981.00" y="2298.50" width="160.00" height="10.50" fill="#000" />
<rect x="396.00" y="2388.50" width="351.50" height="10.50" fill="#000" />
<rect x="788.50" y="2388.50" width="351.50" height="10.50" fill="#000" />
<text x="425.50" y="2364.00" font-size="42.5" fill="#000"><tspan font-weight="bold">High</tspan></text>
<text x="640.50" y="2364.00" font-size="42.5" fill="#000"><tspan font-weight="bold">KO</tspan></text>
<text x="815.50" y="2364.00" font-size="42.5" fill="#000"><tspan font-weight="bold">High</tspan></text>
<text x="1032.00" y="2364.00" font-size="42.5" fill="#000"><tspan font-weight="bold">KO</tspan></text>
<text x="527.00" y="2465.00" font-size="48.2" fill="#000"><tspan font-weight="bold">Day 8</tspan></text>
<text x="885.50" y="2465.00" font-size="48.2" fill="#000"><tspan font-weight="bold">Day 16</tspan></text>
</svg>
</body></html>
